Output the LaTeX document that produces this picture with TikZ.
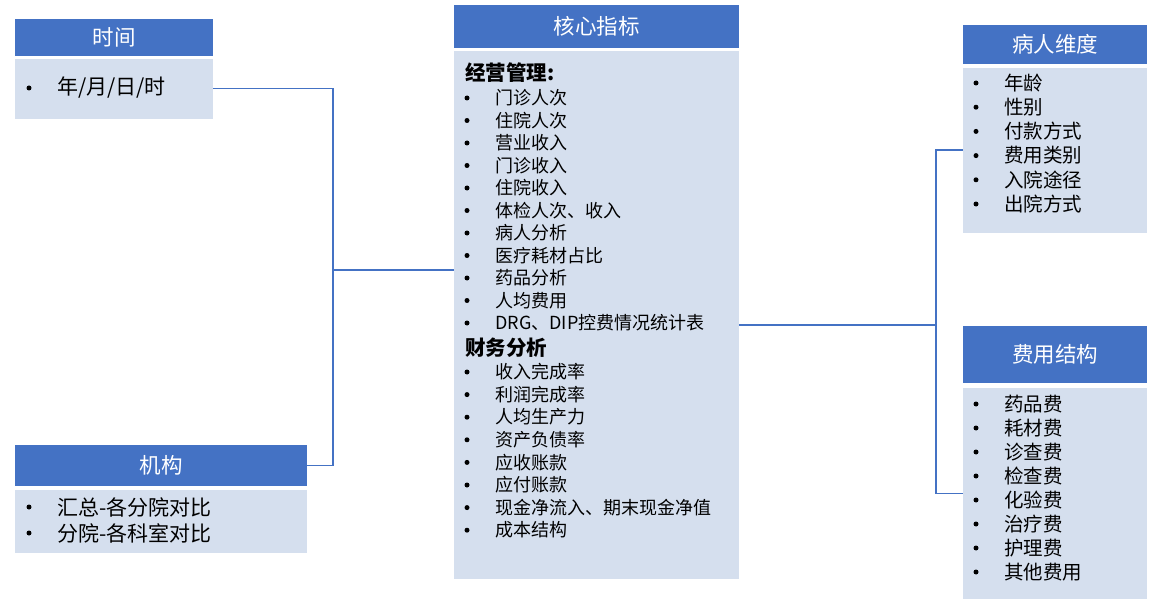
\documentclass[tikz,border=0pt]{standalone}
\usepackage{fontspec}
\setmainfont{Noto Sans CJK SC}
\usetikzlibrary{positioning}
\definecolor{headblue}{HTML}{4472C4}
\definecolor{bodyblue}{HTML}{D5DFEE}

\begin{document}
\begin{tikzpicture}[
        x=1pt, y=-1pt,
        % define styles
        head/.style={
            fill=headblue,
            text=white,
            anchor=north west,
            inner sep=0pt,
            font=\fontsize{21.5}{24}\selectfont
        },
        body/.style={
            fill=bodyblue,
            anchor=north west,
            inner sep=0pt
        },
        item/.style={
            anchor=west,
            inner sep=0pt,
            font=\fontsize{19.5}{24}\selectfont
        },
        smallitem/.style={item, font=\fontsize{18}{22}\selectfont},
        wideitem/.style={item, font=\fontsize{21}{24}\selectfont},
        dot/.style={circle, fill=black, inner sep=0pt, minimum size=5pt},
        subhead/.style={
            anchor=west,
            inner sep=0pt,
            font=\bfseries\fontsize{20.5}{22}\selectfont
        },
        link/.style={draw=headblue, line width=1.2pt}
    ]
    \useasboundingbox (0,0) rectangle (1157,615);

    % time block
    \node[head, minimum width=198, minimum height=37] (timehead) at (15,19) {时间};
    \node[body, minimum width=198, minimum height=60] (timebody) at ([yshift=-2pt]timehead.south west) {};
    \node[dot] (timedot) at (29,88) {};
    \node[wideitem] (timetext) at (57,88) {年/月/日/时};

    % organisation block
    \node[head, minimum width=292, minimum height=41] (orghead) at (15,445) {机构};
    \node[body, minimum width=292, minimum height=63] (orgbody) at ([yshift=-3pt]orghead.south west) {};
    \foreach \txt [count=\i] in {汇总-各分院对比,分院-各科室对比} {
        \node[dot] (orgdot\i) at (29, {507+26*(\i-1)}) {};
        \node[wideitem] (orgtext\i) at (57, {507+26*(\i-1)}) {\txt};
    }

    % core indicators block
    \node[head, minimum width=285, minimum height=43] (corehead) at (454,5) {核心指标};
    \node[body, minimum width=285, minimum height=528] (corebody) at ([yshift=-2pt]corehead.south west) {};
    \node[subhead] (opsub) at (465,73) {经营管理:};
    \foreach \txt [count=\i] in {门诊人次,住院人次,营业收入,门诊收入,住院收入,
        体检人次、收入,病人分析,医疗耗材占比,药品分析,人均费用,DRG、DIP控费情况统计表} {
        \node[dot] (opdot\i) at (467, {98+22.5*(\i-1)}) {};
        \node[smallitem] (optext\i) at (495, {98+22.5*(\i-1)}) {\txt};
    }
    \node[subhead] (finsub) at (465,348) {财务分析};
    \foreach \txt [count=\i] in {收入完成率,利润完成率,人均生产力,资产负债率,
        应收账款,应付账款,现金净流入、期末现金净值,成本结构} {
        \node[dot] (findot\i) at (467, {372+22.6*(\i-1)}) {};
        \node[smallitem] (fintext\i) at (495, {372+22.6*(\i-1)}) {\txt};
    }

    % patient block
    \node[head, minimum width=184, minimum height=39] (pathead) at (963,25) {病人维度};
    \node[body, minimum width=184, minimum height=165] (patbody) at ([yshift=-3pt]pathead.south west) {};
    \foreach \txt [count=\i] in {年龄,性别,付款方式,费用类别,入院途径,出院方式} {
        \node[dot] (patdot\i) at (976, {83+24.2*(\i-1)}) {};
        \node[item] (pattext\i) at (1004, {83+24.2*(\i-1)}) {\txt};
    }

    % cost structure block
    \node[head, minimum width=184, minimum height=57] (feehead) at (963,326) {费用结构};
    \node[body, minimum width=184, minimum height=211] (feebody) at ([yshift=-4pt]feehead.south west) {};
    \foreach \txt [count=\i] in {药品费,耗材费,诊查费,检查费,化验费,治疗费,护理费,其他费用} {
        \node[dot] (feedot\i) at (976, {404+24*(\i-1)}) {};
        \node[item] (feetext\i) at (1004, {404+24*(\i-1)}) {\txt};
    }

    % connectors
    \coordinate (leftjoin) at (333,270);
    \coordinate (rightjoin) at (936,325);
    \draw[link] (timebody.east) -| (leftjoin) |- (orghead.east);
    \draw[link] (leftjoin) -- (corebody.west |- leftjoin);
    \draw[link] (corebody.east |- rightjoin) -- (rightjoin);
    \draw[link] (patbody.west) -| (rightjoin) |- (feebody.west);
\end{tikzpicture}
\end{document}
